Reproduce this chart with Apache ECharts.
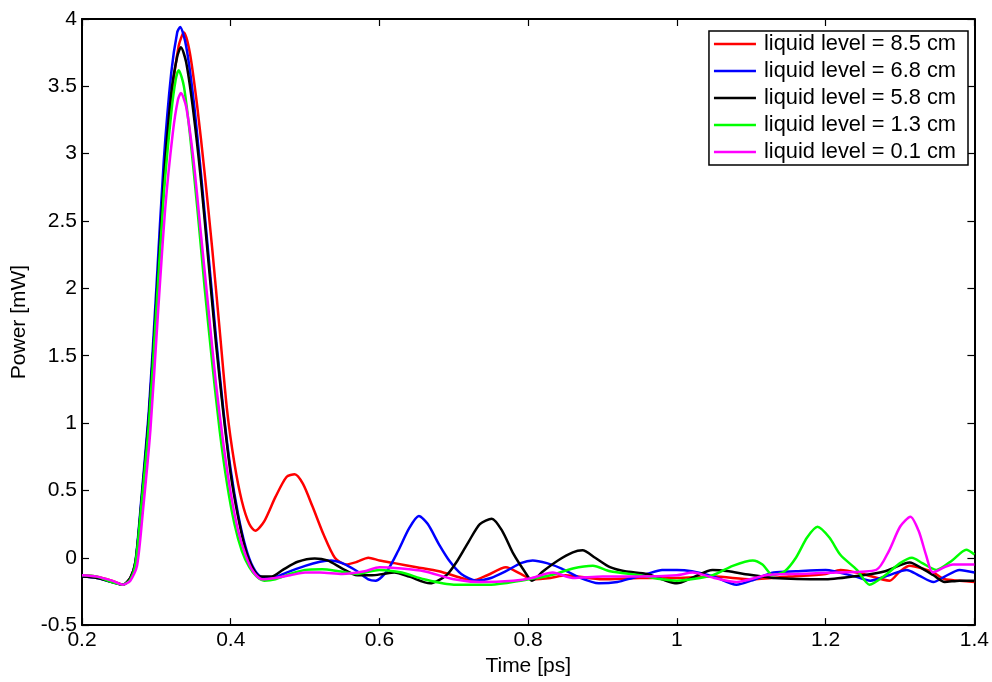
<!DOCTYPE html>
<html><head><meta charset="utf-8">
<script src="https://cdn.jsdelivr.net/npm/echarts@6/dist/echarts.min.js"></script>
<style>html,body{margin:0;padding:0;background:#fff}#c{width:992px;height:682px}</style>
</head><body><div id="c"></div>
<script>
const seriesNames = ['liquid level = 8.5 cm','liquid level = 6.8 cm','liquid level = 5.8 cm','liquid level = 1.3 cm','liquid level = 0.1 cm'];
const xTicks = [0.2,0.4,0.6,0.8,1,1.2,1.4];
const yTicks = [-0.5,0,0.5,1,1.5,2,2.5,3,3.5,4];

const red = [[0.2,-0.13],[0.22,-0.14],[0.24,-0.17],[0.255,-0.2],[0.265,-0.15],[0.272,-0.03],[0.28,0.4],[0.29,1.05],[0.3,1.9],[0.31,2.75],[0.32,3.4],[0.33,3.8],[0.337,3.9],[0.345,3.75],[0.355,3.35],[0.365,2.85],[0.375,2.3],[0.385,1.7],[0.395,1.1],[0.405,0.7],[0.415,0.42],[0.425,0.25],[0.433,0.2],[0.445,0.27],[0.46,0.45],[0.475,0.6],[0.486,0.62],[0.497,0.55],[0.51,0.38],[0.525,0.17],[0.54,0],[0.555,-0.05],[0.57,-0.03],[0.585,0],[0.6,-0.02],[0.62,-0.04],[0.65,-0.07],[0.68,-0.1],[0.71,-0.15],[0.725,-0.17],[0.745,-0.13],[0.77,-0.07],[0.79,-0.12],[0.805,-0.16],[0.83,-0.15],[0.85,-0.13],[0.9,-0.16],[0.95,-0.15],[1.0,-0.15],[1.05,-0.14],[1.1,-0.16],[1.15,-0.14],[1.2,-0.12],[1.22,-0.09],[1.25,-0.12],[1.286,-0.17],[1.3,-0.1],[1.313,-0.06],[1.33,-0.08],[1.345,-0.11],[1.36,-0.16],[1.38,-0.17],[1.4,-0.18]];
const blue = [[0.2,-0.14],[0.22,-0.15],[0.24,-0.18],[0.255,-0.2],[0.265,-0.15],[0.272,-0.02],[0.28,0.45],[0.29,1.1],[0.3,2.0],[0.31,2.95],[0.32,3.6],[0.328,3.9],[0.332,3.94],[0.34,3.8],[0.35,3.4],[0.36,2.85],[0.37,2.25],[0.38,1.65],[0.39,1.1],[0.4,0.65],[0.41,0.32],[0.42,0.08],[0.43,-0.07],[0.44,-0.14],[0.455,-0.15],[0.475,-0.11],[0.5,-0.06],[0.52,-0.03],[0.535,-0.02],[0.55,-0.04],[0.57,-0.1],[0.585,-0.16],[0.595,-0.17],[0.61,-0.1],[0.625,0.05],[0.64,0.22],[0.653,0.31],[0.665,0.25],[0.68,0.1],[0.695,-0.03],[0.71,-0.12],[0.73,-0.17],[0.75,-0.15],[0.77,-0.1],[0.79,-0.04],[0.806,-0.02],[0.825,-0.04],[0.845,-0.08],[0.87,-0.15],[0.895,-0.19],[0.92,-0.18],[0.94,-0.15],[0.96,-0.12],[0.98,-0.09],[1.0,-0.09],[1.02,-0.1],[1.05,-0.14],[1.08,-0.2],[1.1,-0.17],[1.13,-0.11],[1.16,-0.1],[1.2,-0.09],[1.24,-0.14],[1.26,-0.17],[1.285,-0.13],[1.309,-0.09],[1.325,-0.13],[1.345,-0.18],[1.36,-0.14],[1.38,-0.09],[1.4,-0.11]];
const black = [[0.2,-0.14],[0.22,-0.15],[0.24,-0.18],[0.255,-0.2],[0.265,-0.15],[0.272,-0.03],[0.28,0.42],[0.29,1.05],[0.3,1.9],[0.31,2.8],[0.32,3.45],[0.328,3.72],[0.333,3.79],[0.34,3.68],[0.35,3.3],[0.36,2.8],[0.37,2.2],[0.38,1.6],[0.39,1.08],[0.4,0.62],[0.41,0.3],[0.42,0.06],[0.43,-0.08],[0.44,-0.14],[0.455,-0.14],[0.47,-0.09],[0.49,-0.03],[0.513,-0.005],[0.53,-0.02],[0.55,-0.08],[0.57,-0.13],[0.59,-0.13],[0.605,-0.12],[0.62,-0.11],[0.64,-0.14],[0.668,-0.19],[0.69,-0.13],[0.705,-0.02],[0.72,0.12],[0.735,0.25],[0.751,0.29],[0.765,0.2],[0.78,0.03],[0.795,-0.1],[0.805,-0.17],[0.82,-0.1],[0.84,-0.02],[0.86,0.04],[0.873,0.055],[0.89,0.0],[0.91,-0.07],[0.93,-0.1],[0.96,-0.12],[0.98,-0.16],[1.0,-0.19],[1.02,-0.15],[1.048,-0.09],[1.07,-0.1],[1.09,-0.12],[1.13,-0.15],[1.2,-0.16],[1.25,-0.13],[1.28,-0.1],[1.313,-0.035],[1.33,-0.08],[1.345,-0.13],[1.36,-0.18],[1.38,-0.17],[1.4,-0.17]];
const green = [[0.2,-0.13],[0.22,-0.14],[0.24,-0.18],[0.255,-0.2],[0.265,-0.16],[0.272,-0.04],[0.28,0.4],[0.29,1.0],[0.3,1.85],[0.31,2.7],[0.32,3.3],[0.326,3.55],[0.33,3.62],[0.337,3.5],[0.345,3.15],[0.355,2.6],[0.365,2.0],[0.375,1.45],[0.385,0.95],[0.395,0.55],[0.405,0.25],[0.415,0.05],[0.425,-0.07],[0.435,-0.14],[0.445,-0.17],[0.46,-0.16],[0.48,-0.12],[0.5,-0.09],[0.523,-0.086],[0.545,-0.1],[0.57,-0.12],[0.6,-0.09],[0.63,-0.11],[0.66,-0.16],[0.7,-0.2],[0.75,-0.2],[0.79,-0.17],[0.83,-0.13],[0.86,-0.08],[0.887,-0.06],[0.91,-0.1],[0.95,-0.13],[0.98,-0.16],[1.0,-0.17],[1.048,-0.13],[1.075,-0.06],[1.102,-0.02],[1.115,-0.05],[1.129,-0.13],[1.145,-0.1],[1.16,0.0],[1.175,0.15],[1.189,0.23],[1.205,0.15],[1.22,0.02],[1.242,-0.09],[1.259,-0.2],[1.28,-0.13],[1.3,-0.04],[1.316,0.0],[1.33,-0.04],[1.349,-0.09],[1.37,-0.02],[1.389,0.06],[1.4,0.025]];
const magenta = [[0.2,-0.13],[0.22,-0.14],[0.24,-0.17],[0.255,-0.2],[0.265,-0.17],[0.274,-0.06],[0.282,0.35],[0.292,0.95],[0.302,1.8],[0.312,2.6],[0.322,3.15],[0.329,3.4],[0.333,3.45],[0.34,3.35],[0.35,2.95],[0.36,2.4],[0.37,1.85],[0.38,1.3],[0.39,0.85],[0.4,0.48],[0.41,0.2],[0.42,0.02],[0.43,-0.1],[0.442,-0.16],[0.46,-0.15],[0.48,-0.13],[0.5,-0.11],[0.52,-0.11],[0.55,-0.12],[0.58,-0.1],[0.6,-0.07],[0.63,-0.08],[0.66,-0.1],[0.7,-0.16],[0.735,-0.18],[0.78,-0.17],[0.805,-0.15],[0.833,-0.11],[0.86,-0.15],[0.9,-0.14],[0.95,-0.14],[1.0,-0.13],[1.021,-0.11],[1.05,-0.15],[1.08,-0.18],[1.12,-0.13],[1.16,-0.12],[1.215,-0.11],[1.268,-0.09],[1.285,0.05],[1.3,0.23],[1.314,0.305],[1.325,0.2],[1.335,0.02],[1.344,-0.11],[1.36,-0.07],[1.371,-0.05],[1.4,-0.05]];

const seriesData = [red, blue, black, green, magenta];
const colors = ['#ff0000','#0000ff','#000000','#00ff00','#ff00ff'];
const FONT = 'Liberation Sans, Arial, sans-serif';
const FS = 21;

const chart = echarts.init(document.getElementById('c'), null, {renderer:'canvas'});
const axisCommon = {
  axisLine:{show:true, onZero:false, lineStyle:{color:'#000', width:2}},
  axisTick:{show:true, inside:true, length:7, lineStyle:{color:'#000', width:1.2}},
  splitLine:{show:false}
};
chart.setOption({
  animation:false,
  backgroundColor:'#fff',
  grid:{left:82, right:17, top:19, bottom:54, containLabel:false},
  legend:{
    orient:'vertical', right:24, top:31,
    data: seriesNames,
    icon:'rect', itemWidth:42, itemHeight:2.5, itemGap:5,
    backgroundColor:'#fff', borderColor:'#000', borderWidth:1.5,
    padding:[2,12,2,5],
    textStyle:{fontFamily:FONT, fontSize:21.8, color:'#000', padding:[0,0,0,3]}
  },
  xAxis:[
    Object.assign({type:'value', min:0.2, max:1.4, interval:0.2, position:'bottom',
      name:'Time [ps]', nameLocation:'middle', nameGap:26,
      nameTextStyle:{fontFamily:FONT, fontSize:FS, color:'#000'},
      axisLabel:{fontFamily:FONT, fontSize:FS, color:'#000', margin:5,
        formatter:v=>{const t=xTicks.find(x=>Math.abs(x-v)<1e-9);return t===undefined?'':String(t);}}
    }, axisCommon),
    Object.assign({type:'value', min:0.2, max:1.4, interval:0.2, position:'top', axisLabel:{show:false}}, axisCommon)
  ],
  yAxis:[
    Object.assign({type:'value', min:-0.5, max:4, interval:0.5, position:'left',
      name:'Power [mW]', nameLocation:'middle', nameGap:52, nameRotate:90,
      nameTextStyle:{fontFamily:FONT, fontSize:FS, color:'#000'},
      axisLabel:{fontFamily:FONT, fontSize:FS, color:'#000', margin:5,
        formatter:v=>{const t=yTicks.find(x=>Math.abs(x-v)<1e-9);return t===undefined?'':String(t);}}
    }, axisCommon),
    Object.assign({type:'value', min:-0.5, max:4, interval:0.5, position:'right', axisLabel:{show:false}}, axisCommon)
  ],
  series: seriesData.map((d,i)=>({
    name: seriesNames[i], type:'line', data:d, showSymbol:false, symbol:'none',
    smooth:0.25,
    color: colors[i],
    lineStyle:{color:colors[i], width:2.5},
    z: 2+i
  }))
});
</script></body></html>
